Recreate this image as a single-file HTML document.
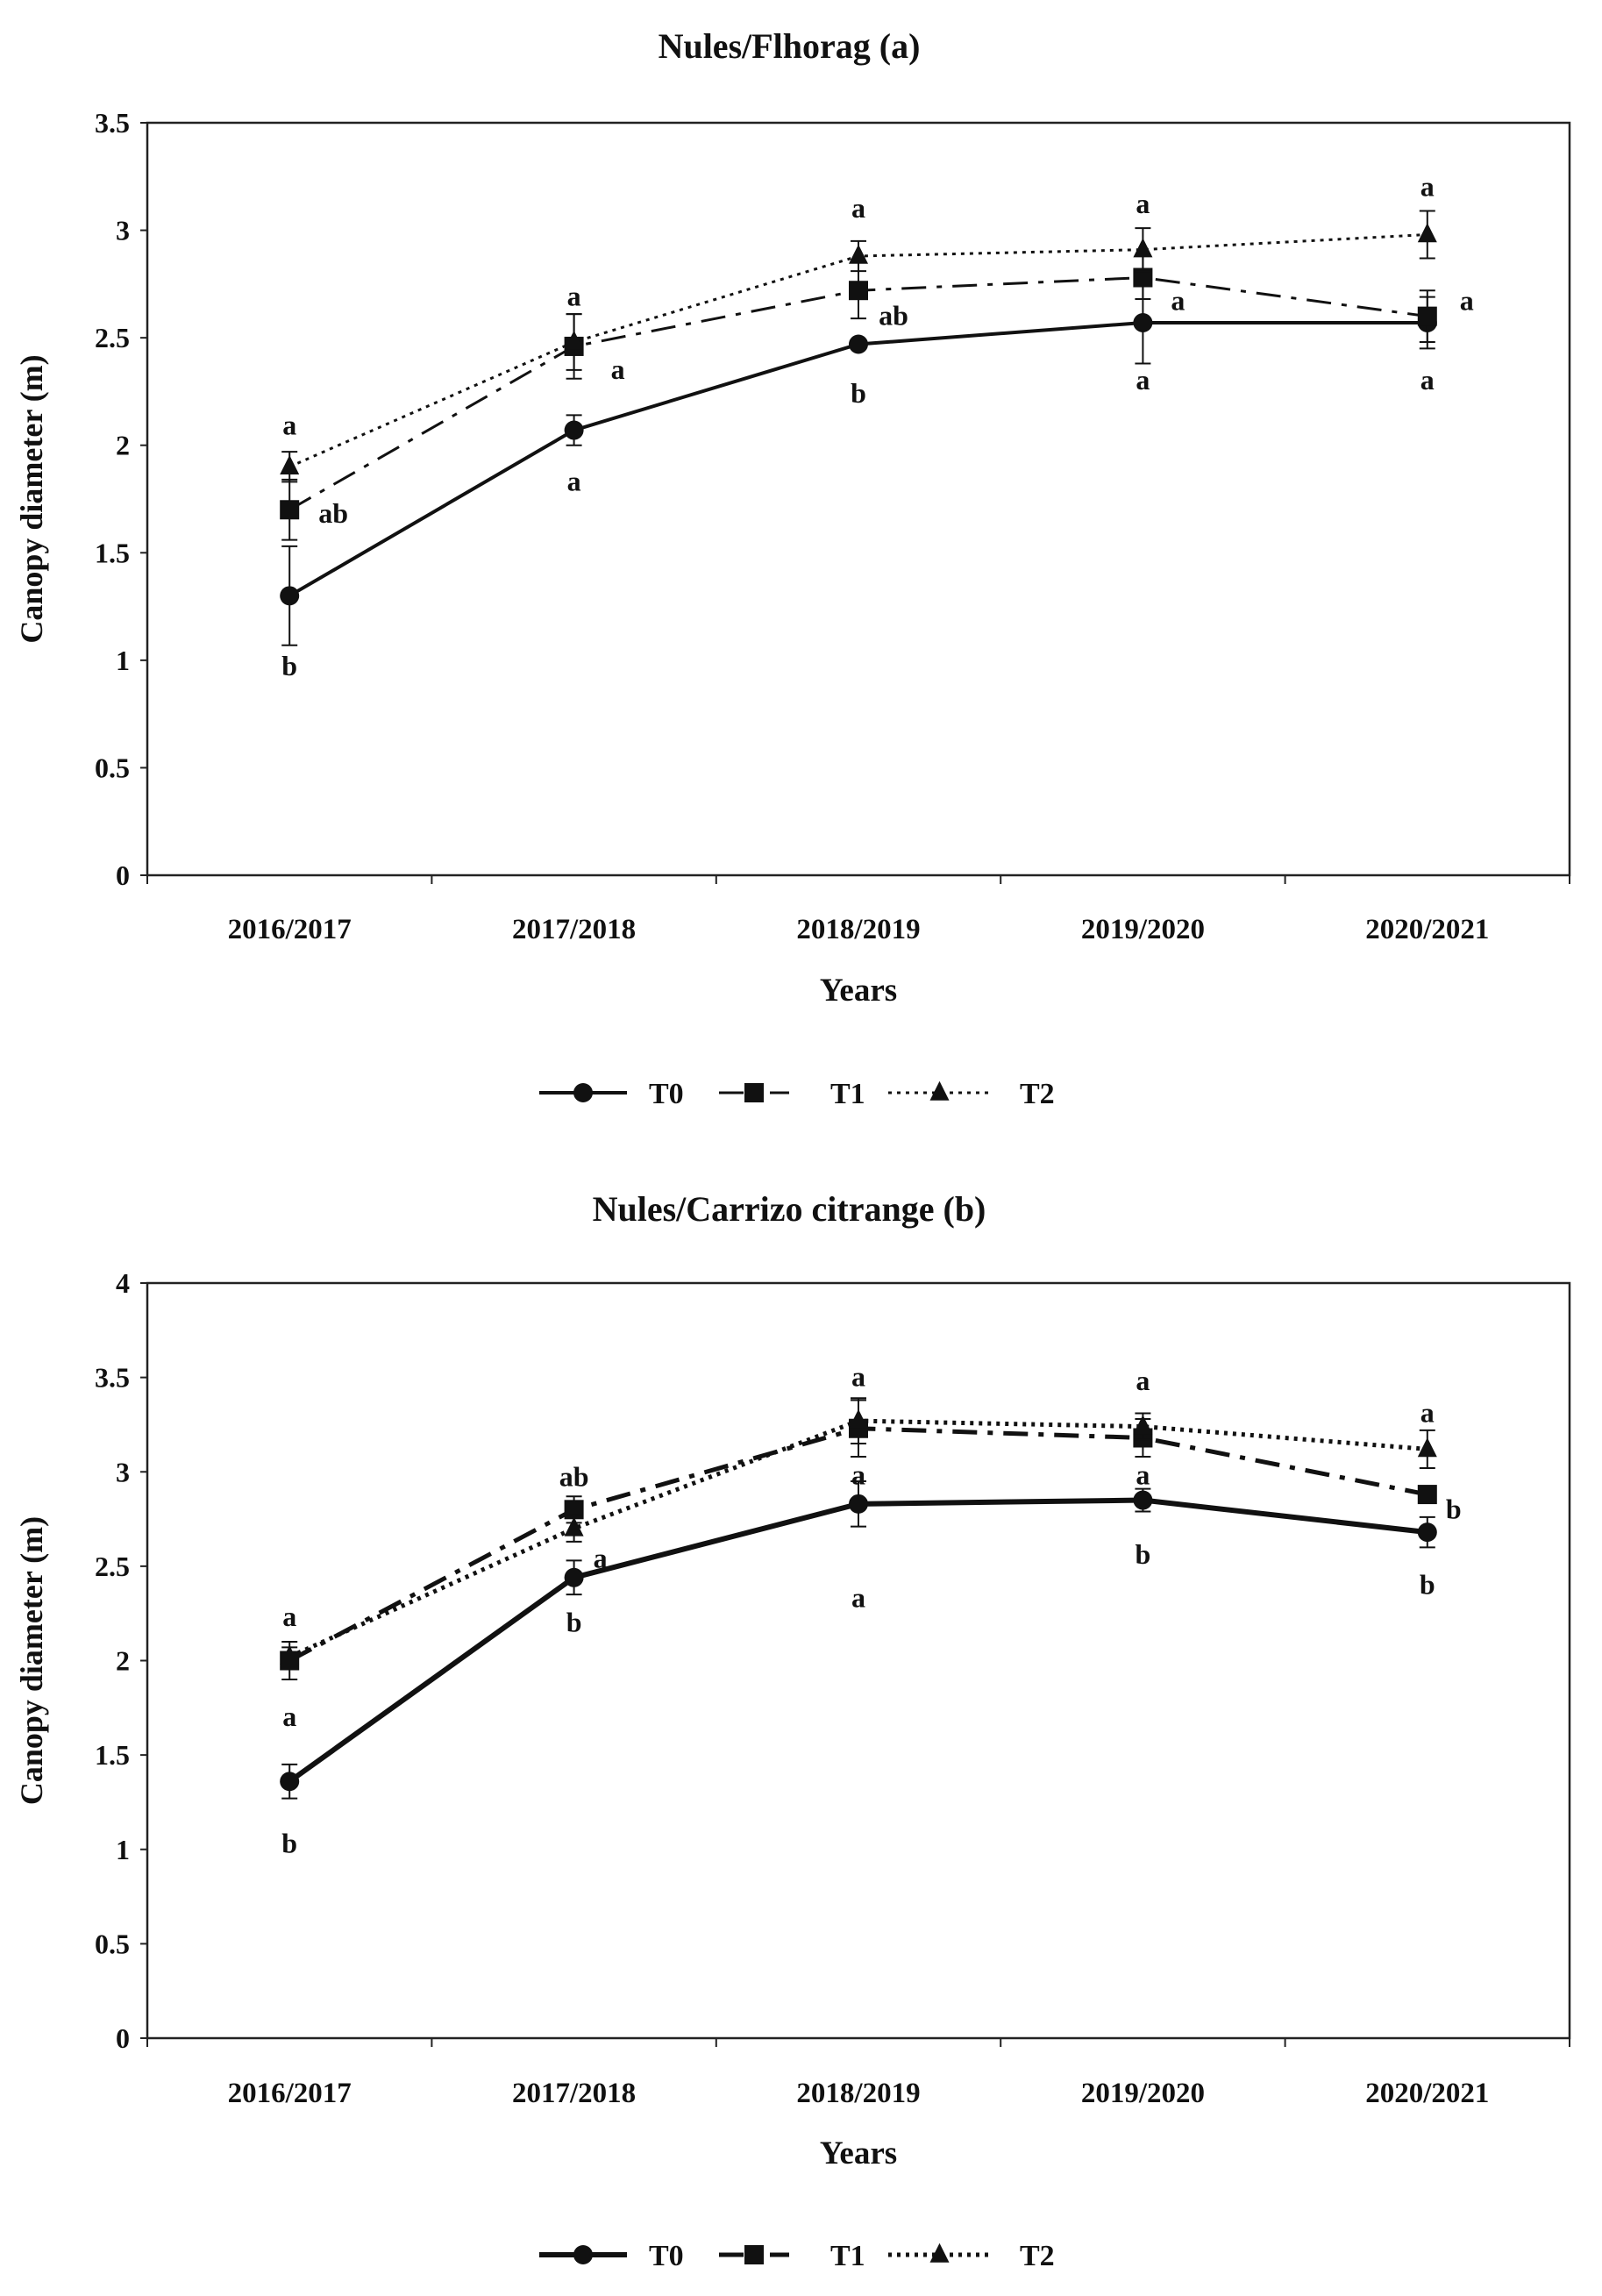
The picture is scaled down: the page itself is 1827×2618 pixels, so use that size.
<!DOCTYPE html>
<html><head><meta charset="utf-8"><style>
body{margin:0;background:#fff}
svg text{font-family:"Liberation Serif",serif;font-weight:bold;fill:#111}
</style></head><body>
<svg id="c" width="1827" height="2613" viewBox="0 0 1827 2613" xmlns="http://www.w3.org/2000/svg"></svg>
<script>
const categories=["2016/2017","2017/2018","2018/2019","2019/2020","2020/2021"];
const aT0=[1.3,2.07,2.47,2.57,2.57];
const aT1=[1.7,2.46,2.72,2.78,2.6];
const aT2=[1.9,2.48,2.88,2.91,2.98];
const aE0=[0.23,0.07,0.02,0.19,0.12];
const aE1=[0.14,0.15,0.13,0.1,0.12];
const aE2=[0.07,0.13,0.07,0.1,0.11];
const bT0=[1.36,2.44,2.83,2.85,2.68];
const bT1=[2.0,2.8,3.23,3.18,2.88];
const bT2=[2.02,2.7,3.27,3.24,3.12];
const bE0=[0.09,0.09,0.12,0.06,0.08];
const bE1=[0.1,0.07,0.15,0.1,0.04];
const bE2=[0.05,0.07,0.12,0.07,0.1];
const aTicks=["0","0.5","1","1.5","2","2.5","3","3.5"];
const bTicks=["0","0.5","1","1.5","2","2.5","3","3.5","4"];
// letter annotations: [category index, value position, text, dx]
const aLetters=[[0,2.09,"a",0],[0,1.68,"ab",50],[0,0.97,"b",0],[1,2.69,"a",0],[1,2.35,"a",50],[1,1.83,"a",0],[2,3.1,"a",0],[2,2.6,"ab",40],[2,2.24,"b",0],[3,3.12,"a",0],[3,2.67,"a",40],[3,2.3,"a",0],[4,3.2,"a",0],[4,2.67,"a",45],[4,2.3,"a",0]];
const bLetters=[[0,2.23,"a",0],[0,1.7,"a",0],[0,1.03,"b",0],[1,2.97,"ab",0],[1,2.54,"a",30],[1,2.2,"b",0],[2,3.5,"a",0],[2,2.98,"a",0],[2,2.33,"a",0],[3,3.48,"a",0],[3,2.98,"a",0],[3,2.56,"b",0],[4,3.31,"a",0],[4,2.8,"b",30],[4,2.4,"b",0]];
const svg=document.getElementById('c');
const NS="http://www.w3.org/2000/svg";
function mk(t,at,txt){const e=document.createElementNS(NS,t);for(const k in at)e.setAttribute(k,at[k]);if(txt!==undefined)e.textContent=txt;svg.appendChild(e);return e;}
function marker(type,x,y,r){
 if(type==0)return mk('circle',{cx:x,cy:y,r:r,fill:'#111'});
 if(type==1)return mk('rect',{x:x-r,y:y-r,width:2*r,height:2*r,fill:'#111'});
 return mk('polygon',{points:`${x},${y-r*1.2} ${x-r},${y+r*0.8} ${x+r},${y+r*0.8}`,fill:'#111'});
}
function chart(id,title,top,bot,ymax,ticks,series,errs,letters,lw,titleY,labY,yrY,legY){
 const L=168,R=1790;
 const xs=i=>L+(R-L)/5*(i+0.5);
 const ys=v=>bot-(bot-top)*v/ymax;
 let t=mk('text',{x:900,y:titleY,'font-size':40,'text-anchor':'middle'},title);
 
 let fr=mk('rect',{x:L,y:top,width:R-L,height:bot-top,fill:'none',stroke:'#222','stroke-width':2.5});
 
 ticks.forEach((tk,i)=>{const v=ymax*i/(ticks.length-1);
  mk('line',{x1:L-8,x2:L,y1:ys(v),y2:ys(v),stroke:'#222','stroke-width':2});
  let e=mk('text',{x:L-20,y:ys(v)+11,'font-size':32,'text-anchor':'end'},tk);
  });
 for(let i=0;i<=5;i++)mk('line',{x1:L+(R-L)/5*i,x2:L+(R-L)/5*i,y1:bot,y2:bot+10,stroke:'#222','stroke-width':2});
 categories.forEach((c,i)=>{let e=mk('text',{x:xs(i),y:labY,'font-size':33,'text-anchor':'middle'},c);
  });
 let yt=mk('text',{x:0,y:0,'font-size':36,'text-anchor':'middle',transform:`translate(48,${(top+bot)/2}) rotate(-90)`},'Canopy diameter (m)');
 
 let xt=mk('text',{x:(L+R)/2,y:yrY,'font-size':37,'text-anchor':'middle'},'Years');
 
 const dashes=['none','28 12 6 12','4 6'];
 const names=['t0','t1','t2'];
 series.forEach((s,k)=>{
  let p=mk('polyline',{points:s.map((v,i)=>xs(i)+','+ys(v)).join(' '),fill:'none',stroke:'#111','stroke-width':k==0?lw+1:lw,'stroke-dasharray':dashes[k]});
  
  s.forEach((v,i)=>{const e=errs[k][i],x=xs(i);
   mk('line',{x1:x,x2:x,y1:ys(v-e),y2:ys(v+e),stroke:'#111','stroke-width':2});
   mk('line',{x1:x-9,x2:x+9,y1:ys(v-e),y2:ys(v-e),stroke:'#111','stroke-width':2});
   mk('line',{x1:x-9,x2:x+9,y1:ys(v+e),y2:ys(v+e),stroke:'#111','stroke-width':2});
   let m=marker(k,x,ys(v),11);
   
  });
 });
 letters.forEach(l=>{let e=mk('text',{x:xs(l[0])+l[3],y:ys(l[1])+10,'font-size':32,'text-anchor':'middle'},l[2]);
  });
 const lg=[[615,715,'T0',740],[820,900,'T1',947],[1013,1130,'T2',1163]];
 lg.forEach((g,k)=>{
  let ln=mk('line',{x1:g[0],x2:g[1],y1:legY,y2:legY,stroke:'#111','stroke-width':k==0?lw+1:lw,'stroke-dasharray':dashes[k]});
  
  marker(k,(g[0]+g[1])/2,legY,11);
  let e=mk('text',{x:g[3],y:legY+12,'font-size':34},g[2]);
  
 });
}
chart('chart-a','Nules/Flhorag   (a)',140,998,3.5,aTicks,[aT0,aT1,aT2],[aE0,aE1,aE2],aLetters,3,66,1070,1141,1246);
chart('chart-b','Nules/Carrizo citrange   (b)',1463,2324,4,bTicks,[bT0,bT1,bT2],[bE0,bE1,bE2],bLetters,5,1392,2397,2467,2571);
</script>
</body></html>
